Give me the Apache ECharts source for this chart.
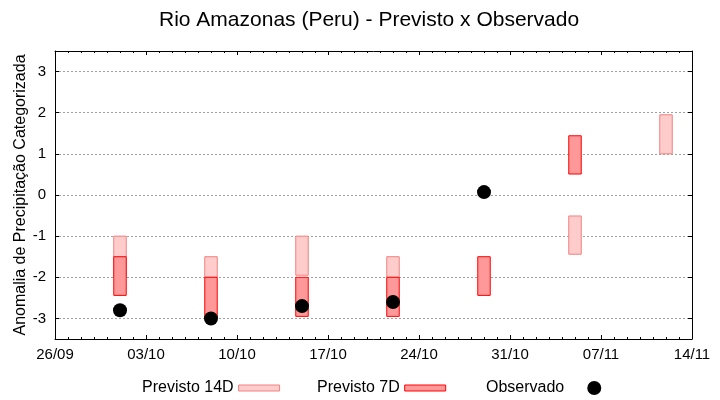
<!DOCTYPE html>
<html><head><meta charset="utf-8">
<script src="https://cdn.jsdelivr.net/npm/echarts@6/dist/echarts.min.js"></script>
<style>html,body{margin:0;padding:0;background:#fff}#c{width:720px;height:400px}</style>
</head><body><div id="c"></div>
<script>
const xTickLabels = ['26/09','03/10','10/10','17/10','24/10','31/10','07/11','14/11'];
const yTickValues = [-3, -2, -1, 0, 1, 2, 3];
const dates      = ['01/10','08/10','15/10','22/10','29/10','05/11','12/11'];
const prev14Low  = [-2.0, -2.0, -1.95, -2.0, null, -1.44, 1.0];
const prev14High = [-1.0, -1.5, -1.0, -1.5, null, -0.51, 1.95];
const prev7Low   = [-2.44, -3.0, -2.95, -2.95, -2.44, 0.51, null];
const prev7High  = [-1.5, -2.0, -2.0, -2.0, -1.5, 1.44, null];
const observed   = [-2.8, -3.0, -2.7, -2.6, 0.07, null, null];

const FONT = 'Liberation Sans, Arial, sans-serif';
const BOX_HALF = 0.48;
function dayIndex(s){
  const [d,m] = s.split('/').map(Number);
  const [d0,m0] = xTickLabels[0].split('/').map(Number);
  return Math.round((Date.UTC(2000,m-1,d) - Date.UTC(2000,m0-1,d0))/86400000);
}
const xs = dates.map(dayIndex);
const xMax = dayIndex(xTickLabels[xTickLabels.length-1]);
function rows(lo, hi){
  const r = [];
  xs.forEach((x,i)=>{ if(lo[i]!=null && hi[i]!=null) r.push([x, lo[i], hi[i]]); });
  return r;
}
const obsRows = [];
xs.forEach((x,i)=>{ if(observed[i]!=null) obsRows.push([x, observed[i]]); });

function boxRenderer(fill, stroke){
  return function(params, api){
    const x = api.value(0), lo = api.value(1), hi = api.value(2);
    const a = api.coord([x - BOX_HALF, hi]);
    const b = api.coord([x + BOX_HALF, lo]);
    return {type:'rect', shape:{x:a[0], y:a[1], width:b[0]-a[0], height:b[1]-a[1]},
      style:{fill:fill, stroke:stroke, lineWidth:1}};
  };
}
const axisLineStyle = {color:'#000', width:1};
const xBase = {
  type:'value', min:0, max:xMax, interval:7,
  axisLine:{show:true, onZero:false, lineStyle:axisLineStyle},
  axisTick:{show:true, inside:true, length:4, lineStyle:axisLineStyle},
  minorTick:{show:true, splitNumber:7, length:2, lineStyle:axisLineStyle},
  splitLine:{show:false}
};
const yBase = {
  type:'value', min:-3.5, max:3.5,
  axisLine:{show:true, onZero:false, lineStyle:axisLineStyle},
  axisTick:{show:true, inside:true, length:4, lineStyle:axisLineStyle, customValues:yTickValues}
};
const tickStyle = {fontSize:15, color:'#000', fontFamily:FONT};
const legendText = {fontSize:16, color:'#000', fontFamily:FONT};

const option = {
  animation:false,
  backgroundColor:'#fff',
  title:{text:'Rio Amazonas (Peru) - Previsto x Observado', left:159, top:10, padding:0,
    textStyle:{fontSize:21, fontWeight:'normal', color:'#000', fontFamily:FONT}},
  grid:{left:55, right:28, top:51, bottom:61},
  legend:[
    {left:142, top:380, padding:0, align:'right', itemWidth:41, itemHeight:6, selectedMode:false,
      textStyle:legendText,
      data:[{name:'Previsto 14D', icon:'rect', itemStyle:{color:'#ffcccc', borderColor:'#f08080', borderWidth:1}}]},
    {left:317, top:380, padding:0, align:'right', itemWidth:41, itemHeight:6, selectedMode:false,
      textStyle:legendText,
      data:[{name:'Previsto 7D', icon:'rect', itemStyle:{color:'#ff9999', borderColor:'#ff0000', borderWidth:1}}]},
    {left:486, top:380, padding:0, align:'right', itemWidth:50, itemHeight:14, selectedMode:false,
      textStyle:legendText,
      data:[{name:'Observado', icon:'circle', itemStyle:{color:'#000', opacity:1}}]}
  ],
  xAxis:[
    Object.assign({}, xBase, {position:'bottom',
      axisLabel:Object.assign({margin:8, formatter:v=>xTickLabels[Math.round(v/7)]}, tickStyle)}),
    Object.assign({}, xBase, {position:'top', axisLabel:{show:false}})
  ],
  yAxis:[
    Object.assign({}, yBase, {position:'left',
      name:'Anomalia de Precipitação Categorizada', nameLocation:'middle', nameGap:26,
      nameMoveOverlap:false,
      nameTextStyle:{fontSize:16, color:'#000', fontFamily:FONT},
      axisLabel:Object.assign({margin:9, customValues:yTickValues, formatter:v=>String(v)}, tickStyle),
      splitLine:{show:true, lineStyle:{color:'#a0a0a0', type:[2,2], width:1}}}),
    Object.assign({}, yBase, {position:'right', axisLabel:{show:false}, splitLine:{show:false}})
  ],
  series:[
    {name:'Previsto 14D', type:'custom', renderItem:boxRenderer('#ffcccc','#f08080'),
      encode:{x:0, y:[1,2]}, data:rows(prev14Low, prev14High), z:2},
    {name:'Previsto 7D', type:'custom', renderItem:boxRenderer('#ff9999','#ff0000'),
      encode:{x:0, y:[1,2]}, data:rows(prev7Low, prev7High), z:3},
    {name:'Observado', type:'scatter', symbol:'circle', symbolSize:14,
      itemStyle:{color:'#000', opacity:1}, data:obsRows, z:4}
  ]
};
const chart = echarts.init(document.getElementById('c'), null, {renderer:'canvas'});
chart.setOption(option);
</script>
</body></html>
